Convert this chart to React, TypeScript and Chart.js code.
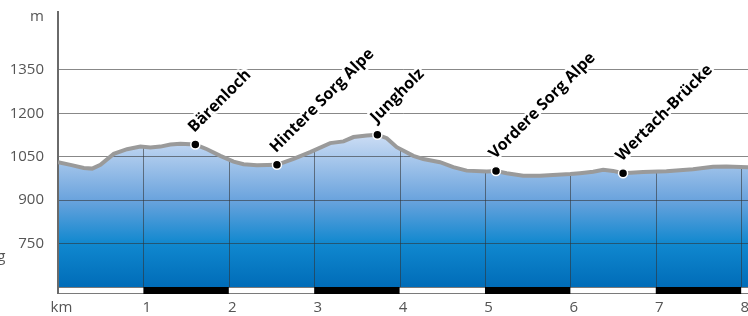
import { useEffect, useRef } from 'react';
import { Chart, registerables } from 'chart.js';

Chart.register(...registerables);

// Elevation profile (distance in km, elevation in m)
const kmValues = [0, 0.146, 0.302, 0.4, 0.497, 0.653, 0.809, 0.965, 1.082, 1.199, 1.316, 1.433, 1.608, 1.745, 1.901, 2.056, 2.173, 2.33, 2.564, 2.758, 2.953, 3.187, 3.343, 3.46, 3.616, 3.74, 3.85, 3.967, 4.161, 4.278, 4.474, 4.629, 4.786, 5.02, 5.129, 5.254, 5.448, 5.643, 6.0, 6.111, 6.267, 6.384, 6.5, 6.617, 6.851, 7.125, 7.436, 7.67, 7.827, 8.08];
const elevations = [1031, 1022, 1011, 1009, 1022, 1060, 1076, 1085, 1082, 1085, 1092, 1095, 1092, 1076, 1053, 1033, 1024, 1021, 1022, 1043, 1066, 1097, 1103, 1118, 1123, 1126, 1114, 1083, 1053, 1042, 1031, 1014, 1002, 999, 1001, 993, 984, 984, 990, 993, 998, 1005, 1001, 993, 997, 1000, 1007, 1015, 1016, 1014];

// Waypoints
const placeNames = ['Bärenloch', 'Hintere Sorg Alpe', 'Jungholz', 'Vordere Sorg Alpe', 'Wertach-Brücke'];
const placeKm = [1.608, 2.564, 3.74, 5.129, 6.617];
const placeElev = [1092, 1022, 1126, 1001, 993];

// Axes
const yTickValues = [750, 900, 1050, 1200, 1350];
const yUnitLabel = 'm';
const yUnitTick = 1535;
const xUnitLabel = 'km';
const xTickValues = [0, 1, 2, 3, 4, 5, 6, 7, 8];
const yMin = 600;
const yMax = 1550;
const xMin = 0;
const xMax = 8.08;

const FONT = '"Open Sans", "Noto Sans", sans-serif';
const GRID = 'rgba(50,50,50,0.58)';
const TEXT = '#555';

const verticalGridPlugin = {
  id: 'verticalGrid',
  beforeDatasetsDraw(chart: any) {
    const meta = chart.getDatasetMeta(1);
    const pts = meta.data;
    if (!pts || !pts.length) return;
    const { ctx, chartArea } = chart;
    const xs = chart.scales.x;
    ctx.save();
    ctx.beginPath();
    ctx.rect(chartArea.left, chartArea.top, chartArea.right - chartArea.left, chartArea.bottom - chartArea.top);
    ctx.clip();
    ctx.beginPath();
    ctx.moveTo(pts[0].x, chartArea.bottom);
    pts.forEach((p: any) => ctx.lineTo(p.x, p.y));
    ctx.lineTo(pts[pts.length - 1].x, chartArea.bottom);
    ctx.closePath();
    ctx.clip();
    ctx.strokeStyle = GRID;
    ctx.lineWidth = 1;
    xTickValues.forEach((v) => {
      if (v === 0) return;
      const x = Math.round(xs.getPixelForValue(v)) + 0.5;
      ctx.beginPath();
      ctx.moveTo(x, chartArea.top);
      ctx.lineTo(x, chartArea.bottom);
      ctx.stroke();
    });
    ctx.restore();
  },
};

const stripPlugin = {
  id: 'distanceStrip',
  afterDatasetsDraw(chart: any) {
    const { ctx, chartArea } = chart;
    const xs = chart.scales.x;
    const top = chartArea.bottom;
    const h = 7;
    const left = xs.getPixelForValue(xMin);
    const right = xs.getPixelForValue(xMax);
    ctx.save();
    ctx.fillStyle = '#fff';
    ctx.fillRect(left, top, right - left, h);
    ctx.strokeStyle = '#7a7a7a';
    ctx.lineWidth = 1;
    ctx.strokeRect(left + 0.5, top + 0.5, right - left, h - 1);
    ctx.fillStyle = '#000';
    for (let k = 0; k < xTickValues.length; k++) {
      const v = xTickValues[k];
      if (v % 2 === 1) {
        const a = xs.getPixelForValue(v);
        const b = xs.getPixelForValue(Math.min(v + 1, xMax));
        ctx.fillRect(a, top, b - a, h);
      }
    }
    // axis line continues down through the strip
    ctx.strokeStyle = '#6a6a6a';
    ctx.lineWidth = 2;
    ctx.beginPath();
    ctx.moveTo(chartArea.left, top);
    ctx.lineTo(chartArea.left, top + h);
    ctx.stroke();
    ctx.restore();
  },
};

const labelPlugin = {
  id: 'placeLabels',
  afterDraw(chart: any) {
    const { ctx } = chart;
    const meta = chart.getDatasetMeta(0);
    ctx.save();
    meta.data.forEach((p: any, i: number) => {
      ctx.save();
      ctx.translate(p.x - 1, p.y - 11.5);
      ctx.rotate(-Math.PI / 4);
      ctx.font = `bold 16px ${FONT}`;
      ctx.textAlign = 'left';
      ctx.textBaseline = 'alphabetic';
      ctx.lineJoin = 'round';
      ctx.strokeStyle = '#fff';
      ctx.lineWidth = 5;
      ctx.strokeText(placeNames[i], 0, 0);
      ctx.fillStyle = '#000';
      ctx.fillText(placeNames[i], 0, 0);
      ctx.restore();
    });
    // clipped text fragment at the left edge
    ctx.font = `15px ${FONT}`;
    ctx.fillStyle = TEXT;
    ctx.textAlign = 'right';
    ctx.textBaseline = 'alphabetic';
    ctx.fillText('g', 5.5, 261);
    ctx.restore();
  },
};

export default function App() {
  const ref = useRef<HTMLCanvasElement | null>(null);

  useEffect(() => {
    if (!ref.current) return;
    const profile = kmValues.map((x, i) => ({ x, y: elevations[i] }));
    const places = placeKm.map((x, i) => ({ x, y: placeElev[i] }));

    const chart = new Chart(ref.current, {
      type: 'line',
      data: {
        datasets: [
          {
            type: 'scatter',
            data: places,
            order: 0,
            pointRadius: 4.5,
            pointHoverRadius: 4.5,
            pointBackgroundColor: '#000',
            pointBorderColor: '#fff',
            pointBorderWidth: 1.5,
            showLine: false,
          } as any,
          {
            data: profile,
            order: 1,
            borderColor: '#9a9a9a',
            borderWidth: 4,
            pointRadius: 0,
            tension: 0,
            fill: 'origin',
            backgroundColor: (c: any) => {
              const ch = c.chart;
              const area = ch.chartArea;
              if (!area) return 'rgba(0,0,0,0)';
              const ys = ch.scales.y;
              const top = ys.getPixelForValue(1115);
              const g = ch.ctx.createLinearGradient(0, top, 0, area.bottom);
              const span = area.bottom - top;
              const mid = ys.getPixelForValue(900);
              const low = ys.getPixelForValue(750);
              g.addColorStop(0, '#c7daf3');
              g.addColorStop(Math.max(0, Math.min(1, (mid - top) / span)), '#6aa3dd');
              g.addColorStop(Math.max(0, Math.min(1, (low - top) / span)), '#1088cf');
              g.addColorStop(1, '#006cb8');
              return g;
            },
          },
        ],
      },
      options: {
        animation: false,
        responsive: false,
        events: [],
        layout: { autoPadding: false, padding: { top: 12, right: 0, bottom: 0, left: 0 } },
        plugins: {
          legend: { display: false },
          tooltip: { enabled: false },
          filler: { drawTime: 'beforeDraw' } as any,
        },
        scales: {
          x: {
            type: 'linear',
            min: xMin,
            max: xMax,
            afterBuildTicks: (s: any) => {
              s.ticks = xTickValues.map((v) => ({ value: v }));
            },
            afterFit: (s: any) => {
              s.paddingLeft = 0;
              s.paddingRight = 0;
              s.height = 29;
            },
            ticks: {
              callback: (v: any) => (v === 0 ? xUnitLabel : String(v)),
              labelOffset: 3.5,
              padding: 12,
              maxRotation: 0,
              autoSkip: false,
              color: TEXT,
              font: { family: FONT, size: 15 },
            },
            grid: { display: false, drawTicks: false },
            border: { display: false },
          },
          y: {
            type: 'linear',
            min: yMin,
            max: yMax,
            afterBuildTicks: (s: any) => {
              s.ticks = [...yTickValues, yUnitTick].map((v) => ({ value: v }));
            },
            afterFit: (s: any) => {
              s.width = 58;
              s.paddingTop = 0;
              s.paddingBottom = 0;
            },
            ticks: {
              callback: (v: any) => (v === yUnitTick ? yUnitLabel : String(v)),
              padding: 14,
              color: TEXT,
              font: { family: FONT, size: 15 },
            },
            grid: {
              drawTicks: false,
              color: (c: any) => (c.tick && c.tick.value === yUnitTick ? 'rgba(0,0,0,0)' : GRID),
              lineWidth: 1,
            },
            border: { display: true, color: '#6a6a6a', width: 2 },
          },
        },
      },
      plugins: [verticalGridPlugin, stripPlugin, labelPlugin],
    });
    return () => chart.destroy();
  }, []);

  return (
    <div style={{ position: 'fixed', left: 0, top: 0, width: 748, height: 316 }}>
      <canvas ref={ref} width={748} height={316} style={{ display: 'block' }} />
    </div>
  );
}
